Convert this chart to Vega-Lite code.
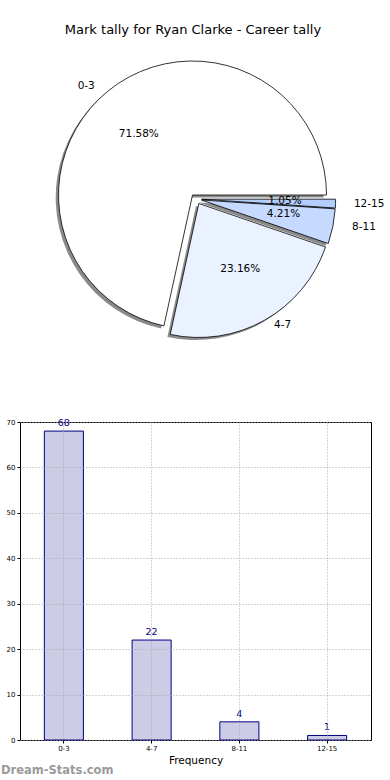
{
  "$schema": "https://vega.github.io/schema/vega-lite/v6.json",
  "padding": {"top": 24, "left": 0, "right": 0, "bottom": 0},
  "title": {"text": "Mark tally for Ryan Clarke - Career tally", "fontSize": 13, "fontWeight": "normal", "anchor": "middle", "offset": 10, "color": "black"},
  "spacing": 66,
  "datasets": {
    "d": [
      {"bin": "0-3", "count": 68, "pct": "71.58%"},
      {"bin": "4-7", "count": 22, "pct": "23.16%"},
      {"bin": "8-11", "count": 4, "pct": "4.21%"},
      {"bin": "12-15", "count": 1, "pct": "1.05%"}
    ]
  },
  "vconcat": [
    {
      "width": 352,
      "height": 304,
      "data": {"name": "d"},
      "encoding": {
        "theta": {"field": "count", "type": "quantitative", "stack": true, "scale": {"domain": [0, 95], "range": [1.5708, 7.854]}},
        "order": {"field": "count", "type": "quantitative", "sort": "ascending"},
        "detail": {"field": "bin", "type": "nominal"}
      },
      "layer": [
        {"mark": {"type": "arc", "radius": 134, "xOffset": -6.3, "yOffset": -1.4, "fill": "#8a8a8a"}, "encoding": {"opacity": {"condition": {"test": "datum.bin === '0-3'", "value": 1}, "value": 0}}},
        {"mark": {"type": "arc", "radius": 134, "xOffset": 0, "yOffset": 7.1, "fill": "#8a8a8a"}, "encoding": {"opacity": {"condition": {"test": "datum.bin === '4-7'", "value": 1}, "value": 0}}},
        {"mark": {"type": "arc", "radius": 134, "xOffset": 2.7, "yOffset": 3.6, "fill": "#8a8a8a"}, "encoding": {"opacity": {"condition": {"test": "datum.bin === '8-11'", "value": 1}, "value": 0}}},
        {"mark": {"type": "arc", "radius": 134, "xOffset": 2.8, "yOffset": 2.8, "fill": "#8a8a8a"}, "encoding": {"opacity": {"condition": {"test": "datum.bin === '12-15'", "value": 1}, "value": 0}}},
        {"mark": {"type": "arc", "radius": 134, "xOffset": -3.5, "yOffset": -4, "fill": "#ffffff", "stroke": "black", "strokeWidth": 0.8}, "encoding": {"opacity": {"condition": {"test": "datum.bin === '0-3'", "value": 1}, "value": 0}}},
        {"mark": {"type": "arc", "radius": 134, "xOffset": 2.8, "yOffset": 4.5, "fill": "#eaf1ff", "stroke": "black", "strokeWidth": 0.8}, "encoding": {"opacity": {"condition": {"test": "datum.bin === '4-7'", "value": 1}, "value": 0}}},
        {"mark": {"type": "arc", "radius": 134, "xOffset": 5.5, "yOffset": 1, "fill": "#c6d9ff", "stroke": "black", "strokeWidth": 0.8}, "encoding": {"opacity": {"condition": {"test": "datum.bin === '8-11'", "value": 1}, "value": 0}}},
        {"mark": {"type": "arc", "radius": 134, "xOffset": 5.6, "yOffset": 0.2, "fill": "#b3cefd", "stroke": "black", "strokeWidth": 0.8}, "encoding": {"opacity": {"condition": {"test": "datum.bin === '12-15'", "value": 1}, "value": 0}}},
        {"mark": {"type": "text", "radius": 147, "align": "right", "baseline": "middle", "xOffset": -9, "yOffset": 1, "fontSize": 10.5}, "encoding": {"text": {"field": "bin"}, "opacity": {"condition": {"test": "datum.bin === '0-3'", "value": 1}, "value": 0}}},
        {"mark": {"type": "text", "radius": 147, "align": "left", "baseline": "middle", "xOffset": 6, "yOffset": -2, "fontSize": 10.5}, "encoding": {"text": {"field": "bin"}, "opacity": {"condition": {"test": "datum.bin === '4-7'", "value": 1}, "value": 0}}},
        {"mark": {"type": "text", "radius": 147, "align": "left", "baseline": "middle", "xOffset": 12, "yOffset": -1, "fontSize": 10.5}, "encoding": {"text": {"field": "bin"}, "opacity": {"condition": {"test": "datum.bin === '8-11'", "value": 1}, "value": 0}}},
        {"mark": {"type": "text", "radius": 147, "align": "left", "baseline": "middle", "xOffset": 11, "yOffset": 0, "fontSize": 10.5}, "encoding": {"text": {"field": "bin"}, "opacity": {"condition": {"test": "datum.bin === '12-15'", "value": 1}, "value": 0}}},
        {"mark": {"type": "text", "radius": 80, "align": "center", "baseline": "middle", "xOffset": -7, "yOffset": -3, "fontSize": 10.5}, "encoding": {"text": {"field": "pct"}, "opacity": {"condition": {"test": "datum.bin === '0-3'", "value": 1}, "value": 0}}},
        {"mark": {"type": "text", "radius": 80, "align": "center", "baseline": "middle", "xOffset": 5, "yOffset": 0, "fontSize": 10.5}, "encoding": {"text": {"field": "pct"}, "opacity": {"condition": {"test": "datum.bin === '4-7'", "value": 1}, "value": 0}}},
        {"mark": {"type": "text", "radius": 80, "align": "center", "baseline": "middle", "xOffset": 9, "yOffset": -1, "fontSize": 10.5}, "encoding": {"text": {"field": "pct"}, "opacity": {"condition": {"test": "datum.bin === '8-11'", "value": 1}, "value": 0}}},
        {"mark": {"type": "text", "radius": 80, "align": "center", "baseline": "middle", "xOffset": 9, "yOffset": -1, "fontSize": 10.5}, "encoding": {"text": {"field": "pct"}, "opacity": {"condition": {"test": "datum.bin === '12-15'", "value": 1}, "value": 0}}}
      ]
    },
    {
      "width": 351,
      "height": 318,
      "view": {"stroke": "black", "strokeWidth": 1},
      "title": {"text": "Dream-Stats.com", "orient": "bottom", "anchor": "start", "fontSize": 11.5, "fontWeight": "bold", "color": "#9a9a9a", "offset": -1},
      "data": {"name": "d"},
      "encoding": {
        "x": {"field": "bin", "type": "nominal", "sort": ["0-3", "4-7", "8-11", "12-15"],
          "scale": {"paddingInner": 0.555, "paddingOuter": 0.2775},
          "axis": {"title": "Frequency", "titleFontSize": 10.5, "titleFontWeight": "normal", "titlePadding": 4, "labelFontSize": 7, "labelAngle": 0, "labelPadding": 1, "tickSize": 3, "bandPosition": 0.5, "grid": true, "gridDash": [1, 2], "gridColor": "#aaaaaa", "domain": false, "zindex": 1}},
        "y": {"field": "count", "type": "quantitative", "scale": {"domain": [0, 70], "nice": false},
          "axis": {"title": null, "values": [0, 10, 20, 30, 40, 50, 60, 70], "labelFontSize": 7, "labelPadding": 2, "tickSize": 3, "grid": true, "gridDash": [1, 2], "gridColor": "#aaaaaa", "domain": false, "minExtent": 19, "maxExtent": 19, "zindex": 1}}
      },
      "layer": [
        {"mark": {"type": "bar", "fill": "#ccccE6", "stroke": "#000080", "strokeWidth": 1}},
        {"mark": {"type": "text", "baseline": "bottom", "dy": -3, "fontSize": 9.5, "color": "#000080"}, "encoding": {"text": {"field": "count"}}}
      ]
    }
  ],
  "config": {
    "font": "DejaVu Sans",
    "view": {"stroke": null},
    "axis": {"labelColor": "black", "tickColor": "black", "titleColor": "black"},
    "text": {"color": "black"}
  }
}
